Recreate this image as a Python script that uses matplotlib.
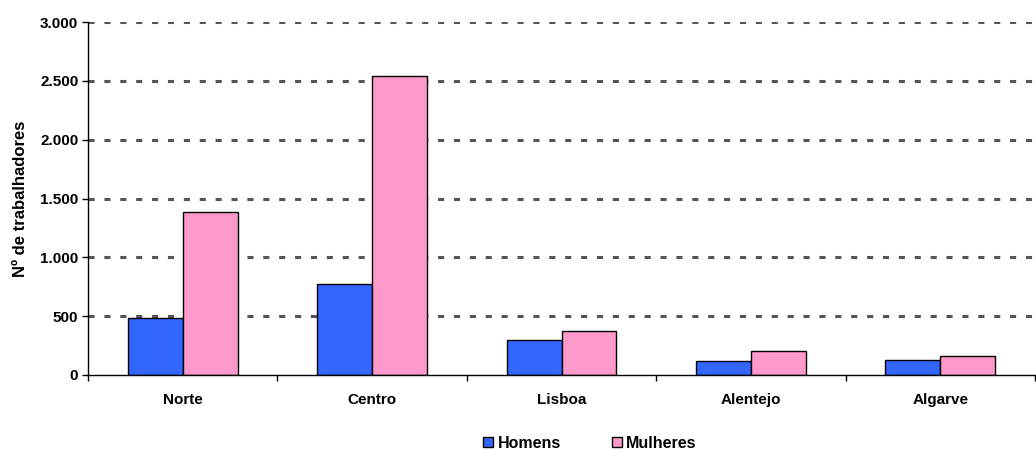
import matplotlib
matplotlib.use("Agg")
import matplotlib.pyplot as plt
import numpy as np

categories = ["Norte", "Centro", "Lisboa", "Alentejo", "Algarve"]
homens = [482, 772, 300, 116, 127]
mulheres = [1385, 2545, 371, 201, 159]
series_names = ["Homens", "Mulheres"]
yticks = [0, 500, 1000, 1500, 2000, 2500, 3000]
ytick_labels = ["0", "500", "1.000", "1.500", "2.000", "2.500", "3.000"]
ylabel = "Nº de trabalhadores"

plt.rcParams['font.family'] = ['Liberation Sans', 'DejaVu Sans']
plt.rcParams['font.weight'] = 'bold'

fig = plt.figure(figsize=(10.36, 4.5), dpi=100)
ax = fig.add_axes([88/1036, 1-375/450, (1035-88)/1036, (375-22)/450])

x = np.arange(len(categories))
w = 0.29
ax.bar(x - w/2, homens, w, color="#3366FF", edgecolor="black", linewidth=1, label=series_names[0], zorder=3)
ax.bar(x + w/2, mulheres, w, color="#FF99CC", edgecolor="black", linewidth=1, label=series_names[1], zorder=3)

ax.set_xlim(-0.5, len(categories) - 0.5)
ax.set_ylim(0, 3000)
ax.set_yticks(yticks)
ax.set_yticklabels(ytick_labels, fontsize=11, fontweight='bold')
ax.set_xticks(x)
ax.set_xticklabels(categories, fontsize=11, fontweight='bold')
ax.set_xticks(np.arange(-0.5, len(categories)), minor=True)
ax.tick_params(axis='x', which='major', length=0, pad=13)
ax.tick_params(axis='x', which='minor', length=4, direction='out', width=1)
ax.tick_params(axis='y', length=4, direction='out', width=1, pad=3)

ax.set_axisbelow(True)
ax.yaxis.grid(True, color="#555555", linewidth=2.2, linestyle=(0, (2, 3.2)))
ax.yaxis.get_gridlines()[0].set_visible(False)
for s in ["top", "right"]:
    ax.spines[s].set_visible(False)
ax.spines["left"].set_linewidth(1)
ax.spines["bottom"].set_linewidth(1)
ax.spines["left"].set_zorder(4)
ax.spines["bottom"].set_zorder(4)

ax.set_ylabel(ylabel, fontsize=12, fontweight='bold', labelpad=9)

leg = fig.legend(loc="center", bbox_to_anchor=(590/1036, 1-443/450), ncol=2, frameon=False,
                 fontsize=11.5, handlelength=0.6, handleheight=0.6, handletextpad=0.3,
                 columnspacing=3.2, borderpad=0)

fig.savefig("out.png", dpi=100)
